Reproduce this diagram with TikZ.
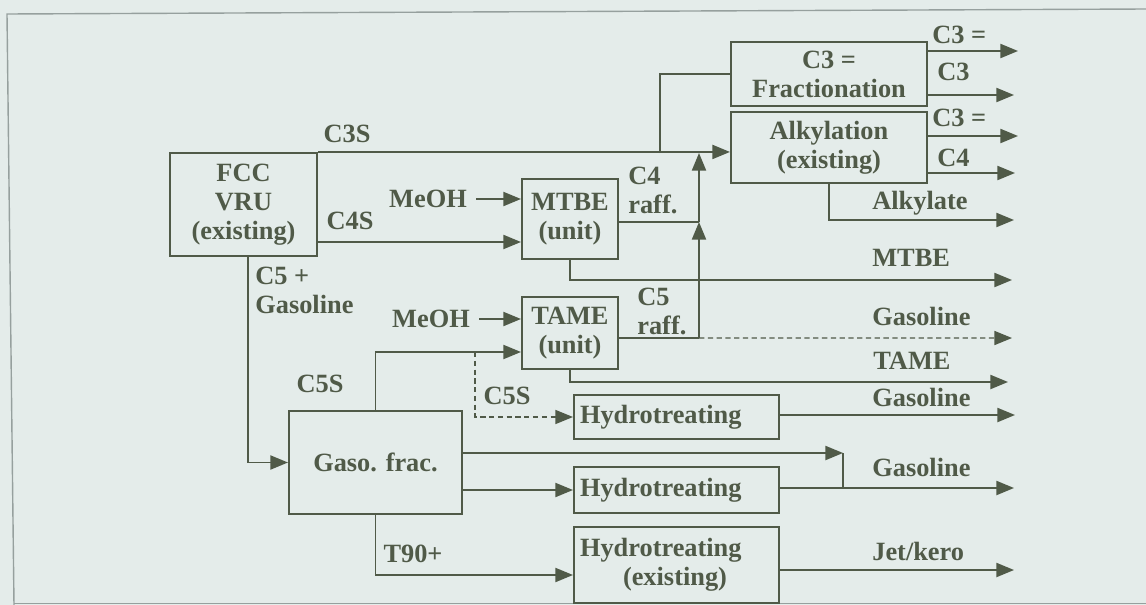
\documentclass[tikz,border=0pt]{standalone}
\usepackage{fontspec}
\setmainfont{Liberation Serif}
\usetikzlibrary{arrows.meta}
\definecolor{ink}{RGB}{80,90,72}
\definecolor{paper}{RGB}{228,236,234}
\definecolor{rim}{RGB}{150,160,158}
\tikzset{
	box/.style={draw=ink, line width=1.2pt, inner sep=2pt, align=center},
	hydbox/.style={box, text width=3.86cm, inner xsep=0.12cm, align=left, minimum width=4.1cm},
	lbl/.style={inner sep=0pt, align=left},
	flow/.style={draw=ink, line width=1pt},
	arr/.style={flow, -{Triangle[length=10pt,width=8pt]}},
	dashflow/.style={draw=ink, line width=0.7pt, densely dashed, -{Triangle[length=10pt,width=8pt]}}
}
\begin{document}
\begin{tikzpicture}[x=0.02cm, y=-0.02cm, font=\fontsize{15}{16.5}\selectfont\bfseries, text=ink]
		\useasboundingbox (0,0) rectangle (1146,605);
		\fill[paper] (0,0) rectangle (1146,605);
		\draw[rim, line width=0.8pt] (1146,9) -- (7,14) -- (14,605);
		\draw[rim, line width=0.8pt] (14,603.5) -- (1146,603.5);

		\node[box, minimum width=2.94cm, minimum height=2.06cm] (fcc) at (243.5,204.5) {FCC\\VRU\\(existing)};
		\node[box, minimum width=1.92cm, minimum height=1.6cm] (mtbe) at (570,219) {MTBE\\(unit)};
		\node[box, minimum width=1.92cm, minimum height=1.44cm] (tame) at (570,333) {TAME\\(unit)};
		\node[box, minimum width=3.92cm, minimum height=1.28cm] (frac) at (829,74) {C3 =\\Fractionation};
		\node[box, minimum width=3.92cm, minimum height=1.42cm] (alky) at (829,147.5) {Alkylation\\(existing)};
		\node[box, minimum width=3.46cm, minimum height=2.06cm] (gaso) at (375.5,462.5) {Gaso. frac.};
		\node[hydbox, minimum height=0.88cm] (hyd1) at (676.5,417) {Hydrotreating};
		\node[hydbox, minimum height=0.92cm] (hyd2) at (676.5,490) {Hydrotreating};
		\node[hydbox, minimum height=1.52cm] (hyd3) at (676.5,565) {Hydrotreating\\\hspace*{0.86cm}(existing)};

		\node[lbl, inner xsep=0.18cm] (meoh1) at (428,199) {MeOH};
		\node[lbl, inner xsep=0.18cm] (meoh2) at (431,319) {MeOH};

		\coordinate (c4s) at ([yshift=-0.75cm]fcc.east);
		\coordinate (c4r) at ([yshift=-0.06cm]mtbe.east);
		\coordinate (c5r) at ([yshift=-0.1cm]tame.east);
		\coordinate (c5in) at ([yshift=-0.38cm]tame.west);
		\coordinate (t90) at ([yshift=-0.2cm]hyd3.west);
		\coordinate (rise) at (699,153);
		\coordinate (split) at (660,153);
		\coordinate (c5sbr) at (475,352);
		\coordinate (merge) at (843,453);
		\coordinate (o-c3a) at (1018,51);
		\coordinate (o-c3) at (1014,95);
		\coordinate (o-c3b) at (1018,136);
		\coordinate (o-c4) at (1015,173);
		\coordinate (o-alk) at (1014,220);
		\coordinate (o-mtbe) at (1012,280);
		\coordinate (o-gas1) at (1012,338);
		\coordinate (o-tame) at (1008,382);
		\coordinate (o-gas2) at (1015,415);
		\coordinate (o-gas3) at (1014,488);
		\coordinate (o-jet) at (1014,570);

		\draw[arr] (fcc.north east) -- (fcc.north east -| alky.west);
		\draw[flow] (split) |- (frac.west);
		\draw[arr] (c4s) -- (c4s -| mtbe.west);
		\draw[arr] (meoh1.east) -- (meoh1.east -| mtbe.west);
		\draw[arr] (meoh2.east) -- (meoh2.east -| tame.west);
		\draw[arr] ([xshift=0.09cm]fcc.south) |- (gaso.west);
		\draw[arr] (gaso.north) |- (c5in);
		\draw[dashflow] (c5sbr) |- (hyd1.west);
		\draw[arr] (merge -| gaso.east) -- (merge);
		\draw[flow] (merge) -- (merge |- o-gas3);
		\draw[arr] (gaso.east |- hyd2.west) -- (hyd2.west);
		\draw[arr] (gaso.south) |- (t90);

		\draw[flow] (c4r) -- (c4r -| rise);
		\draw[flow] (c5r) -- (c5r -| rise);
		\draw[arr] (c5r -| rise) -- (c4r -| rise);
		\draw[arr] (c4r -| rise) -- (rise);
		\draw[dashflow] (c5r -| rise) -- (o-gas1);

		\draw[arr] (o-c3a -| frac.east) -- (o-c3a);
		\draw[arr] (o-c3 -| frac.east) -- (o-c3);
		\draw[arr] (o-c3b -| alky.east) -- (o-c3b);
		\draw[arr] (o-c4 -| alky.east) -- (o-c4);
		\draw[arr] (alky.south) |- (o-alk);
		\draw[arr] (mtbe.south) |- (o-mtbe);
		\draw[arr] (tame.south) |- (o-tame);
		\draw[arr] (o-gas2 -| hyd1.east) -- (o-gas2);
		\draw[arr] (o-gas3 -| hyd2.east) -- (o-gas3);
		\draw[arr] (o-jet -| hyd3.east) -- (o-jet);

		\node[lbl] (l-c3s) at (347,134) {C3S};
		\node[lbl] (l-c4s) at (350,221) {C4S};
		\node[lbl, anchor=west] (l-c5p) at (255,290) {C5 +\\Gasoline};
		\node[lbl, anchor=west] (l-c4r) at (628,190) {C4\\raff.};
		\node[lbl, anchor=west] (l-c5r) at (637,311) {C5\\raff.};
		\node[lbl] (l-c5s) at (320,384) {C5S};
		\node[lbl] (l-c5s2) at (507,396) {C5S};
		\node[lbl] (l-t90) at (413,554) {T90+};

		\node[lbl, anchor=west] (l-c3a) at (932,35) {C3 =};
		\node[lbl, anchor=west] (l-c3) at (937,72) {C3};
		\node[lbl, anchor=west] (l-c3b) at (932,118) {C3 =};
		\node[lbl, anchor=west] (l-c4) at (937,158) {C4};
		\node[lbl, anchor=west] (l-alk) at (872,203) {Alkylate};
		\node[lbl, anchor=west] (l-mtbe) at (872,258) {MTBE};
		\node[lbl, anchor=west] (l-gas1) at (872,316) {Gasoline};
		\node[lbl, anchor=west] (l-tame) at (873,361) {TAME};
		\node[lbl, anchor=west] (l-gas2) at (872,397) {Gasoline};
		\node[lbl, anchor=west] (l-gas3) at (872,467) {Gasoline};
		\node[lbl, anchor=west] (l-jet) at (872,551) {Jet/kero};
	\end{tikzpicture}
\end{document}
